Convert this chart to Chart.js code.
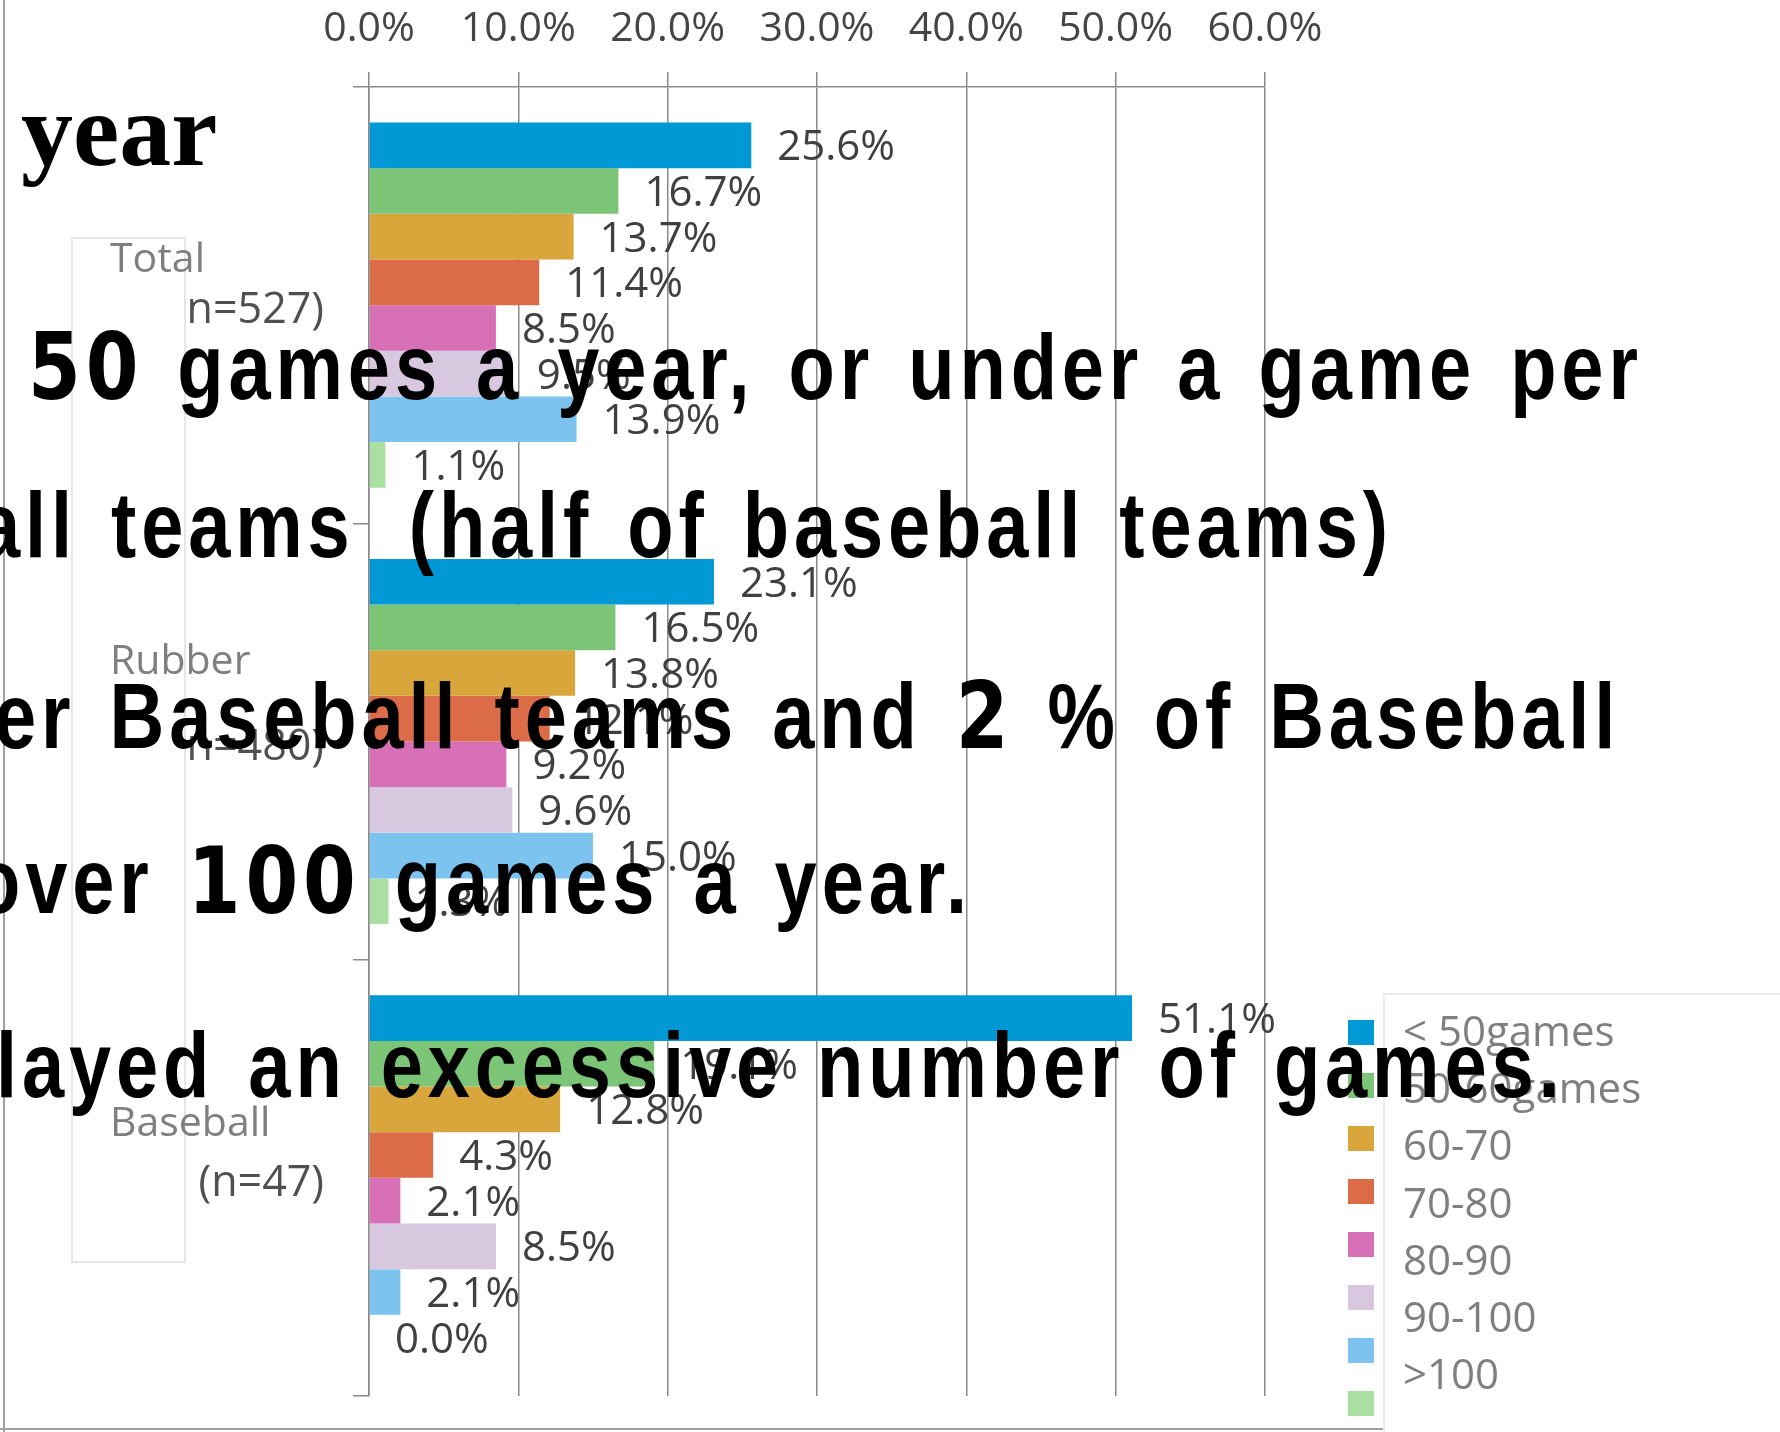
<!DOCTYPE html>
<html>
<head>
<meta charset="utf-8">
<script src="https://cdn.jsdelivr.net/npm/chart.js@4.4.1/dist/chart.umd.min.js"></script>
<style>
    html, body { margin: 0; padding: 0; background: #fff; }
    .page { position: relative; width: 1780px; height: 1432px; overflow: hidden; background: #fff; }
    .frame-left { position: absolute; left: 3px; top: 0; width: 2px; height: 1432px; background: #a0a0a0; }
    .frame-bottom { position: absolute; left: 0; top: 1428px; width: 1383px; height: 2px; background: #a0a0a0; }
    .legend-box { position: absolute; left: 1383px; top: 993px; width: 400px; height: 440px; border-top: 2px solid #ececec; border-left: 2px solid #ececec; }
    .legend-swatch { position: absolute; left: 1348px; width: 26px; height: 25px; }
    .legend-label { position: absolute; left: 1403px; height: 50px; line-height: 50px; font-family: "Open Sans", sans-serif; font-size: 42px; color: #7f7f7f; white-space: pre; }
    .slide-text { position: absolute; white-space: pre; color: #000; font-family: "Liberation Sans", sans-serif; font-weight: bold; font-size: 93px; line-height: 93px; letter-spacing: 6px; word-spacing: 10px; transform: scaleX(0.815); transform-origin: 0 0; }
    .slide-text .num { font-family: "DejaVu Sans", sans-serif; }
    .slide-serif { font-family: "Liberation Serif", serif; font-size: 104px; line-height: 104px; letter-spacing: 0; word-spacing: 0; transform: none; }
</style>
</head>
<body>
<div class="page">
    <canvas id="chart" width="1780" height="1432"></canvas>
    <div class="frame-left"></div>
    <div class="frame-bottom"></div>
    <div class="legend-box"></div>
    <div id="legend"></div>
    <div class="slide-text slide-serif" style="left: 21px; top: 78px;">year</div>
    <div class="slide-text" style="left: 28px; top: 321px;"><span class="num">50</span> games a year, or under a game per</div>
    <div class="slide-text" style="left: -22px; top: 479px;">all teams &#8201;(half of baseball teams)</div>
    <div class="slide-text" style="left: -6px; top: 670px;">er Baseball teams and <span class="num">2</span> % of Baseball</div>
    <div class="slide-text" style="left: -26px; top: 835px;">over <span class="num">100</span> games a year.</div>
    <div class="slide-text" style="left: -4px; top: 1019px;">layed an excessive number of games.</div>
</div>
<script>
const categories = ["Total", "Rubber", "Baseball"];
const sampleSizes = ["(n=527)", "(n=480)", "(n=47)"];
const binLabels = ["< 50games", "50-60games", "60-70", "70-80", "80-90", "90-100", ">100", ""];
const binColors = ["#0099d6", "#7cc576", "#d8a63a", "#dc6b47", "#d870b8", "#d7c8e0", "#7dc3f0", "#a9e0a1"];

// percent of teams per games-played bin
const totalValues = [25.6, 16.7, 13.7, 11.4, 8.5, 9.5, 13.9, 1.1];
const rubberValues = [23.1, 16.5, 13.8, 12.1, 9.2, 9.6, 15.0, 1.3];
const baseballValues = [51.1, 19.1, 12.8, 4.3, 2.1, 8.5, 2.1, 0.0];

const tickValues = [0, 10, 20, 30, 40, 50, 60];

// y label overlay: name line sits above the centre, sample size just below
const nameOffsets = [-45, -79, -54];

const groups = [totalValues, rubberValues, baseballValues];

const datasets = binLabels.map((label, i) => ({
    label: label,
    data: groups.map(g => g[i]),
    backgroundColor: binColors[i],
    borderWidth: 0,
    categoryPercentage: 0.837,
    barPercentage: 1.0
}));

const labelPlugin = {
    id: "labelPlugin",
    afterDatasetsDraw(chart) {
        const ctx = chart.ctx;
        ctx.save();
        ctx.font = "42px 'Open Sans'";
        ctx.fillStyle = "#404040";
        ctx.textAlign = "left";
        ctx.textBaseline = "middle";
        chart.data.datasets.forEach((ds, di) => {
            const meta = chart.getDatasetMeta(di);
            meta.data.forEach((bar, i) => {
                ctx.fillText(ds.data[i].toFixed(1) + "%", bar.x + 26, bar.y + 3);
            });
        });

        // category labels
        const y = chart.scales.y;
        ctx.font = "43px 'Open Sans'";
        ctx.textAlign = "right";
        ctx.fillStyle = "#505050";
        categories.forEach((c, i) => {
            ctx.fillText(sampleSizes[i], 324, y.getPixelForValue(i) + 6);
        });

        // pasted white box over the old labels
        ctx.fillStyle = "#ffffff";
        ctx.fillRect(72, 238, 113, 1024);
        ctx.strokeStyle = "#e6e6e6";
        ctx.lineWidth = 2;
        ctx.strokeRect(72, 238, 113, 1024);

        ctx.font = "41px 'Open Sans'";
        ctx.textAlign = "left";
        ctx.fillStyle = "#7f7f7f";
        categories.forEach((c, i) => {
            ctx.fillText(c, 110, y.getPixelForValue(i) + nameOffsets[i]);
        });
        ctx.restore();
    }
};

const chart = new Chart(document.getElementById("chart"), {
    type: "bar",
    data: {
        labels: categories,
        datasets: datasets
    },
    options: {
        indexAxis: "y",
        responsive: false,
        animation: false,
        layout: {
            padding: { left: 0, right: 515, top: 0, bottom: 36 }
        },
        plugins: {
            legend: { display: false },
            tooltip: { enabled: false }
        },
        scales: {
            x: {
                position: "top",
                min: 0,
                max: 60,
                afterBuildTicks(scale) {
                    scale.ticks = tickValues.map(v => ({ value: v }));
                },
                afterFit(scale) {
                    scale.height = 87;
                },
                ticks: {
                    color: "#454545",
                    font: { family: "Open Sans", size: 41 },
                    padding: 18,
                    maxRotation: 0,
                    callback: v => v.toFixed(1) + "%"
                },
                grid: {
                    color: "#8a8a8a",
                    lineWidth: 1.5,
                    tickLength: 15
                },
                border: { color: "#8a8a8a", width: 1.5 }
            },
            y: {
                type: "category",
                afterFit(scale) {
                    scale.width = 369;
                },
                ticks: { display: false },
                grid: {
                    drawOnChartArea: false,
                    drawTicks: true,
                    tickLength: 16,
                    color: "#8a8a8a",
                    lineWidth: 1.5
                },
                border: { color: "#8a8a8a", width: 1.5 }
            }
        }
    },
    plugins: [labelPlugin]
});

// legend: swatches and labels, as in the pasted picture
const legend = document.getElementById("legend");
chart.data.datasets.forEach((ds, i) => {
    const sw = document.createElement("div");
    sw.className = "legend-swatch";
    sw.style.top = (1020 + i * 53) + "px";
    sw.style.background = ds.backgroundColor;
    legend.appendChild(sw);

    const lb = document.createElement("div");
    lb.className = "legend-label";
    lb.style.top = (1030 + i * 57.2 - 25) + "px";
    lb.textContent = ds.label;
    legend.appendChild(lb);
});
</script>
</body>
</html>
